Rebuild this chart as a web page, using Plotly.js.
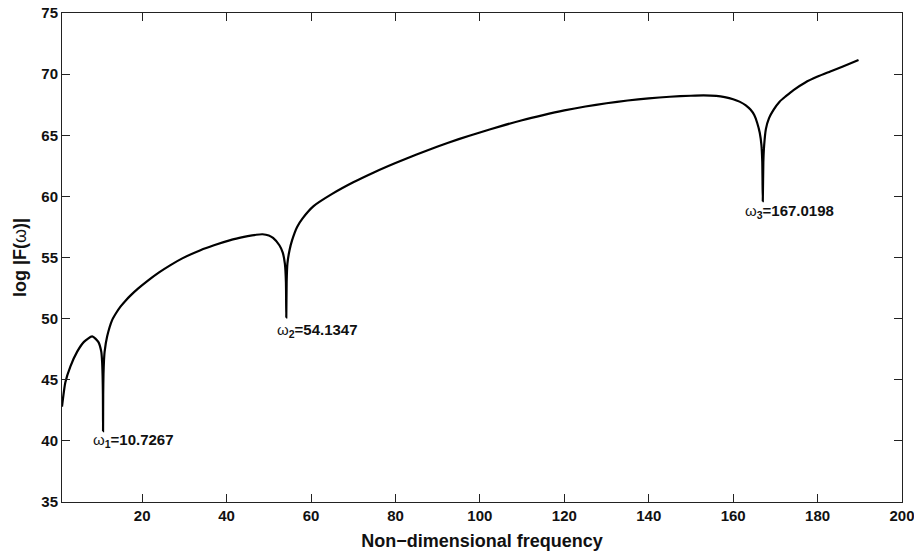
<!DOCTYPE html>
<html>
<head>
<meta charset="utf-8">
<script src="https://cdn.plot.ly/plotly-3.0.1.min.js"></script>
<style>html,body{margin:0;padding:0;background:#fff;}#chart{width:914px;height:554px;}</style>
</head>
<body>
<div id="chart"></div>
<script>
var freq = [1, 1.8, 3.0, 4.6, 6.2, 8.15, 9.6, 10.3, 10.5, 10.62, 10.69, 10.7267, 10.76, 10.83, 10.95, 11.1, 11.7, 12.9, 13.9, 14.9, 16, 17.2, 19, 21.2, 24, 26.7, 29.5, 33.8, 37, 40.9, 43, 45, 47, 48.5, 50, 51, 52.5, 53.3, 53.8, 54.05, 54.1347, 54.22, 54.4, 54.9, 55.5, 56.7, 58, 60.6, 65, 70, 75, 80, 85, 90, 95, 100, 105, 110, 115, 120, 125, 130, 135, 140, 145, 150, 153, 156, 158, 160, 161.5, 163, 164.1, 165, 165.7, 166.3, 166.7, 166.9, 167.0198, 167.15, 167.35, 167.75, 168.5, 169.6, 171, 172.5, 174.3, 177, 180, 183, 186, 189.7];
var logF = [42.8, 44.8, 46.1, 47.3, 48.1, 48.55, 48.1, 47.3, 46.5, 45.3, 43.8, 40.8, 43.8, 45.5, 46.6, 47.3, 48.55, 49.9, 50.5, 51.0, 51.45, 51.88, 52.45, 53.07, 53.78, 54.38, 54.93, 55.6, 56.0, 56.42, 56.6, 56.75, 56.86, 56.9, 56.8, 56.6, 56.0, 55.4, 54.5, 53.0, 50.1, 53.0, 54.5, 55.6, 56.4, 57.5, 58.2, 59.2, 60.2, 61.15, 61.98, 62.73, 63.43, 64.08, 64.68, 65.23, 65.75, 66.23, 66.65, 67.03, 67.35, 67.62, 67.84, 68.02, 68.15, 68.23, 68.26, 68.22, 68.12, 67.95, 67.75, 67.45, 67.1, 66.65, 66.0, 65.2, 64.2, 62.8, 59.6, 62.8, 64.2, 65.5, 66.4, 67.1, 67.75, 68.2, 68.7, 69.3, 69.8, 70.22, 70.63, 71.15];
var xTicks = [20, 40, 60, 80, 100, 120, 140, 160, 180, 200];
var yTicks = [35, 40, 45, 50, 55, 60, 65, 70, 75];
var labelX = [7.9, 51.5, 162.4];
var labelY = [40.0, 49.0, 58.75];
var labelText = ['<span style="font-weight:normal">ω</span><sub>1</sub>=10.7267', '<span style="font-weight:normal">ω</span><sub>2</sub>=54.1347', '<span style="font-weight:normal">ω</span><sub>3</sub>=167.0198'];

var FONT = 'Liberation Sans, Arial, Helvetica, sans-serif';
var annotations = labelText.map(function(t, i) {
  return {x: labelX[i], y: labelY[i], xref: 'x', yref: 'y', text: t, showarrow: false,
    xanchor: 'left', yanchor: 'middle', font: {family: FONT, size: 15, color: '#111', weight: 'bold'}};
});

var trace = {x: freq, y: logF, mode: 'lines', line: {color: '#000', width: 2.2, shape: 'spline', smoothing: 0.6}, hoverinfo: 'skip'};
var axisCommon = {showgrid: false, zeroline: false, showline: true, linecolor: '#222', linewidth: 1,
  mirror: 'ticks', ticks: 'inside', ticklen: 8, tickcolor: '#222', tickwidth: 1, ticklabeloverflow: 'allow',
  tickfont: {family: FONT, size: 15, color: '#111', weight: 'bold'}};
var layout = {
  width: 914, height: 554,
  margin: {l: 61.5, r: 12.3, t: 13, b: 51.5},
  paper_bgcolor: '#fff', plot_bgcolor: '#fff', showlegend: false,
  xaxis: Object.assign({}, axisCommon, {range: [1, 200], tickmode: 'array', tickvals: xTicks, ticktext: xTicks.map(String),
    title: {text: 'Non\u2212dimensional frequency', font: {family: FONT, size: 18, color: '#111', weight: 'bold'}, standoff: 11}}),
  yaxis: Object.assign({}, axisCommon, {range: [35, 75], tickmode: 'array', tickvals: yTicks, ticktext: yTicks.map(String),
    title: {text: 'log |F(<span style="font-weight:normal">ω</span>)|', font: {family: FONT, size: 18, color: '#111', weight: 'bold'}, standoff: 10}}),
  annotations: annotations
};
Plotly.newPlot('chart', [trace], layout, {staticPlot: true, displayModeBar: false});
</script>
</body>
</html>
